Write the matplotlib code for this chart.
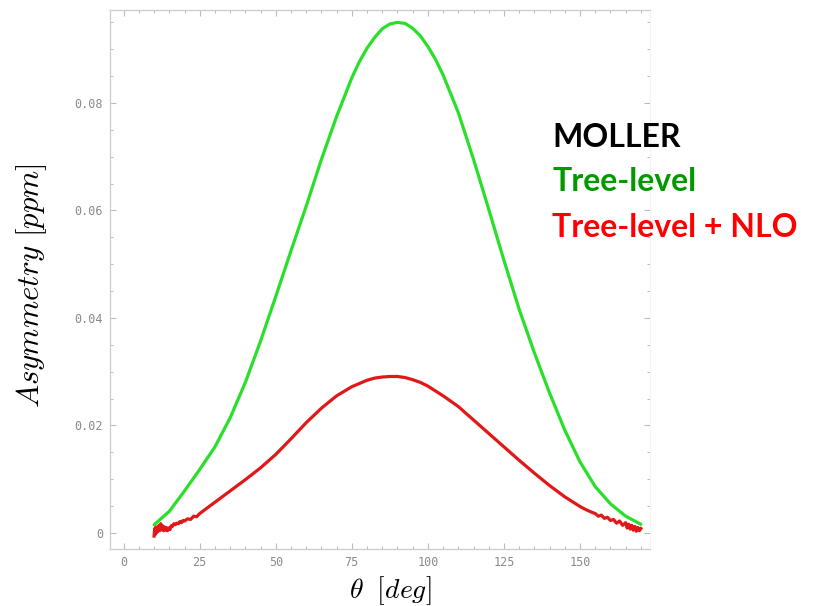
import matplotlib
matplotlib.use("Agg")
import matplotlib.pyplot as plt
from matplotlib.ticker import MultipleLocator, FixedLocator, FixedFormatter

plt.rcParams["mathtext.fontset"] = "cm"

# Tree-level asymmetry (ppm) vs theta (deg)
theta_tree = [10, 15, 20, 25, 30, 35, 40, 45, 50, 55, 60, 65, 70, 75, 77.5, 80, 82.5, 85,
              87.5, 90, 92.5, 95, 97.5, 100, 102.5, 105, 110, 115, 120, 125, 130, 135,
              140, 145, 150, 155, 160, 165, 170]
asym_tree = [0.0015, 0.0040, 0.0078, 0.0118, 0.0160, 0.0214, 0.0280, 0.0357, 0.0440,
             0.0525, 0.0608, 0.0695, 0.0775, 0.0847, 0.0877, 0.0902, 0.0922, 0.0938,
             0.0947, 0.0950, 0.0948, 0.0939, 0.0925, 0.0905, 0.0881, 0.0852, 0.0782,
             0.0695, 0.0602, 0.0507, 0.0416, 0.0335, 0.0260, 0.0191, 0.0132, 0.0086,
             0.0054, 0.0031, 0.0016]

# Tree-level + NLO asymmetry (ppm) vs theta (deg), noisy at the ends
theta_nlo = [10.0, 10.2, 10.4, 10.6, 10.8, 11.0, 11.3, 11.6, 11.9, 12.2, 12.5, 12.8, 13.1,
             13.4, 13.7, 14.0, 14.4, 14.8, 15.2, 15.6, 16.0, 16.5, 17.0, 17.5, 18.0,
             18.5, 19.0, 19.5, 20, 21, 22, 23, 24, 25, 30, 35, 40, 45, 50, 55, 60, 65,
             70, 75, 80, 82.5, 85, 87.5, 90, 92.5, 95, 97.5, 100, 105, 110, 115, 120,
             125, 130, 135, 140, 145, 150, 152, 154, 155, 156, 157, 158, 159, 160, 161,
             162, 163, 164, 165, 165.5, 166, 166.5, 167, 167.5, 168, 168.5, 169, 169.5,
             170]
asym_nlo = [-0.0006, 0.0008, -0.0003, 0.0011, 0.0000, 0.0009, 0.0003, 0.0014, 0.0004,
            0.0017, 0.0006, 0.0013, 0.0004, 0.0011, 0.0005, 0.0010, 0.0004, 0.0009,
            0.0006, 0.0013, 0.0012, 0.0017, 0.0015, 0.0018, 0.0017, 0.0021, 0.0019,
            0.0023, 0.0022, 0.0026, 0.0025, 0.0031, 0.0030, 0.0036, 0.0057, 0.0078,
            0.0099, 0.0121, 0.0146, 0.0175, 0.0205, 0.0232, 0.0255, 0.0272, 0.0284,
            0.0288, 0.0290, 0.0291, 0.0291, 0.0289, 0.0285, 0.0280, 0.0273, 0.0255,
            0.0235, 0.0210, 0.0185, 0.0160, 0.0135, 0.0111, 0.0088, 0.0067, 0.0049,
            0.0043, 0.0038, 0.0036, 0.0031, 0.0033, 0.0027, 0.0029, 0.0023, 0.0025,
            0.0018, 0.0022, 0.0014, 0.0019, 0.0009, 0.0016, 0.0007, 0.0014, 0.0005,
            0.0012, 0.0003, 0.0010, 0.0004, 0.0008]

x_ticks = [0, 25, 50, 75, 100, 125, 150]
y_ticks = [0, 0.02, 0.04, 0.06, 0.08]
y_tick_labels = ["0", "0.02", "0.04", "0.06", "0.08"]

legend_lines = ["MOLLER", "Tree-level", "Tree-level + NLO"]
legend_colors = ["#000000", "#009a00", "#ff0000"]

fig = plt.figure(figsize=(8.17, 6.06), dpi=100)
ax = fig.add_axes([0.1346, 0.0941, 0.661, 0.8894])

ax.plot(theta_tree, asym_tree, color="#2adf2a", lw=2.3, solid_capstyle="round",
        solid_joinstyle="round")
ax.plot(theta_nlo, asym_nlo, color="#e01818", lw=2.3, solid_joinstyle="round")

ax.set_xlim(-4.5, 173)
ax.set_ylim(-0.003, 0.0973)

ax.xaxis.set_major_locator(FixedLocator(x_ticks))
ax.xaxis.set_minor_locator(MultipleLocator(5))
ax.yaxis.set_major_locator(FixedLocator(y_ticks))
ax.yaxis.set_major_formatter(FixedFormatter(y_tick_labels))
ax.yaxis.set_minor_locator(MultipleLocator(0.005))

ax.tick_params(which="both", direction="in", top=True, right=True, colors="#bbbbbb",
               labelcolor="#8a8a8a")
ax.tick_params(which="major", length=4, width=0.8, labelsize=8.5, pad=5)
ax.tick_params(which="minor", length=2.2, width=0.7)
for lab in ax.get_xticklabels() + ax.get_yticklabels():
    lab.set_family("DejaVu Sans Mono")

for side in ["left", "bottom", "top"]:
    ax.spines[side].set_color("#cccccc")
    ax.spines[side].set_linewidth(0.9)
ax.spines["right"].set_color("#f0f0f0")
ax.spines["right"].set_linewidth(0.6)

ax.set_xlabel(r"$\theta\;\ [deg]$", fontsize=20)
ax.xaxis.label.set_va("center")
ax.xaxis.set_label_coords(0.519, -0.078)
ax.set_ylabel(r"$Asymmetry\ [ppm]$", fontsize=22.3)
ax.yaxis.label.set_va("center")
ax.yaxis.set_label_coords(-0.1444, 0.488)

ys = [0.773, 0.700, 0.625]
for txt, col, yy in zip(legend_lines, legend_colors, ys):
    fig.text(0.676, yy, txt, color=col, fontsize=23, fontweight="bold",
             family="Lato", va="center", ha="left")

fig.savefig("out.png", dpi=100, facecolor="white")
